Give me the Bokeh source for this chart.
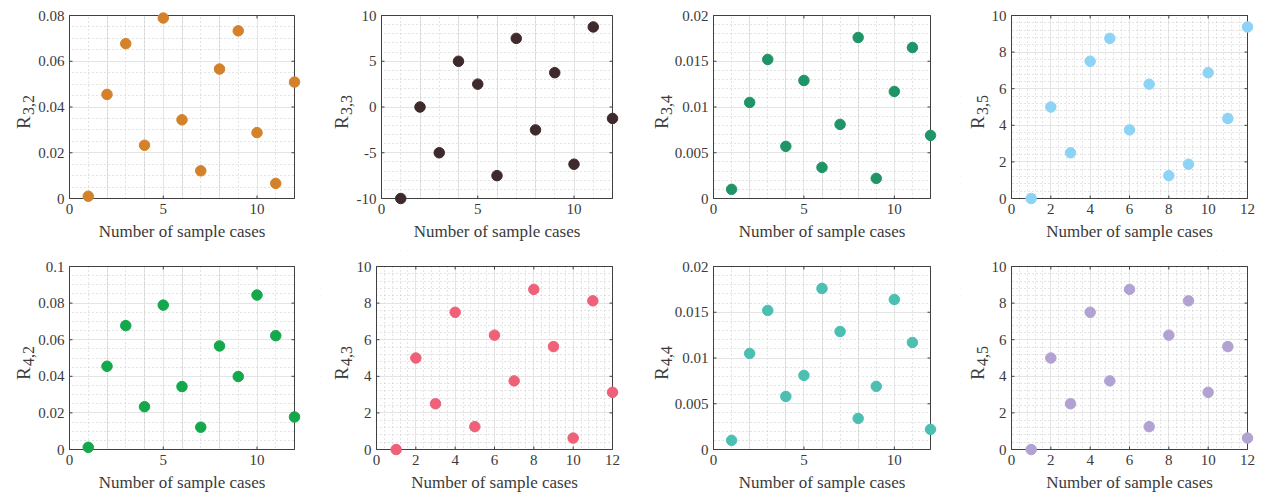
import numpy as np
from bokeh.plotting import figure
from bokeh.models import FixedTicker, Range1d, BoxAnnotation, Grid
from bokeh.core.properties import value
from bokeh.layouts import column, row
from bokeh.embed import file_html
from bokeh.resources import INLINE

# ---- data ----
cases = list(range(1, 13))
r32 = [0.001, 0.0455, 0.0677, 0.0233, 0.0789, 0.0344, 0.0121, 0.0566, 0.0733, 0.0288, 0.0066, 0.0509]
r33 = [-10, 0, -5, 5, 2.5, -7.5, 7.5, -2.5, 3.75, -6.25, 8.75, -1.25]
r34 = [0.001, 0.0105, 0.0152, 0.0057, 0.0129, 0.0034, 0.0081, 0.0176, 0.0022, 0.0117, 0.0165, 0.0069]
r35 = [0, 5, 2.5, 7.5, 8.75, 3.75, 6.25, 1.25, 1.875, 6.875, 4.375, 9.375]
r42 = [0.0012, 0.0455, 0.0677, 0.0234, 0.0789, 0.0344, 0.0122, 0.0566, 0.0399, 0.0844, 0.0622, 0.0178]
r43 = [0, 5, 2.5, 7.5, 1.25, 6.25, 3.75, 8.75, 5.625, 0.625, 8.125, 3.125]
r44 = [0.001, 0.0105, 0.0152, 0.0058, 0.0081, 0.0176, 0.0129, 0.0034, 0.0069, 0.0164, 0.0117, 0.0022]
r45 = [0, 5, 2.5, 7.5, 3.75, 8.75, 1.25, 6.25, 8.125, 3.125, 5.625, 0.625]

y_main = "R"
y_subs = ["3,2", "3,3", "3,4", "3,5", "4,2", "4,3", "4,4", "4,5"]
series = [r32, r33, r34, r35, r42, r43, r44, r45]
colors = ["#D4822A", "#3E2A2D", "#1F9567", "#8DD3F5", "#12A84B", "#EE6179", "#4CBFB3", "#B2A2D4"]
y_lims = [(0, 0.08), (-10, 10), (0, 0.02), (0, 10), (0, 0.1), (0, 10), (0, 0.02), (0, 10)]
y_steps = [0.02, 5, 0.005, 2, 0.02, 2, 0.005, 2]
y_minor = [4, 5, 5, 5, 4, 5, 5, 5]
x_lim = (0, 12)
x_steps = [5, 5, 5, 2, 5, 2, 5, 2]
x_minor = [5, 5, 5, 5, 5, 5, 5, 5]
x_label = "Number of sample cases"

# ---- layout (pixels) ----
col_w = [320, 330, 310, 308]
row_h = [250, 249]
box_left = [[69, 61, 63, 51], [69, 56, 63, 51]]
box_right = [[26, 38, 30, 21], [26, 38, 30, 21]]
box_top = [15, 16]
box_bottom = [52, 50]
ylab_x = [[-46, -40, -52, -34], [-46, -35, -52, -34]]   # baseline of the rotated "R", px from box left
TICK = 3

FONT = "Liberation Serif"
AX = "#404040"
TXT = "#3a3a3a"


def ticks(lo, hi, step, nsub):
    n = int(np.floor((hi - lo) / step + 1e-9))
    major = [float(v) for v in np.linspace(lo, lo + n * step, n + 1)]
    m = int(round((hi - lo) / (step / nsub)))
    allm = np.linspace(lo, hi, m + 1)
    minor = [float(v) for k, v in enumerate(allm) if k % nsub != 0]
    return major, minor


def fmt(v):
    s = f"{round(v, 6):g}"
    return "0" if s == "-0" else s


def make(i):
    r, c = divmod(i, 4)
    ylo, yhi = y_lims[i]
    xlo, xhi = x_lim
    W, H = col_w[c], row_h[r]
    bl, br, bt, bb = box_left[r][c], box_right[r][c], box_top[r], box_bottom[r]
    bw = W - bl - br
    bh = H - bt - bb
    ux = (xhi - xlo) / bw
    uy = (yhi - ylo) / bh
    xr = Range1d(xlo - bl * ux, xhi + br * ux)
    yr = Range1d(ylo - bb * uy, yhi + bt * uy)
    p = figure(width=W, height=H, output_backend="svg", toolbar_location=None,
               x_range=xr, y_range=yr, x_axis_location=None, y_axis_location=None,
               min_border=0, background_fill_color="white", border_fill_color="white")
    p.outline_line_color = None

    xmaj, xmin = ticks(xlo, xhi, x_steps[i], x_minor[i])
    ymaj, ymin = ticks(ylo, yhi, y_steps[i], y_minor[i])
    xt = FixedTicker(ticks=xmaj, minor_ticks=xmin)
    yt = FixedTicker(ticks=ymaj, minor_ticks=ymin)

    for dim, t in ((0, xt), (1, yt)):
        g = Grid(dimension=dim, ticker=t, grid_line_color="#e4e4e4", grid_line_width=1,
                 minor_grid_line_color="#c8c8c8", minor_grid_line_dash="1 3",
                 minor_grid_line_width=1)
        p.add_layout(g)

    # white covers outside the data box, so that grid lines stop at the box
    for kw in (dict(left=xr.start, right=xlo, bottom=yr.start, top=yr.end),
               dict(left=xhi, right=xr.end, bottom=yr.start, top=yr.end),
               dict(left=xr.start, right=xr.end, bottom=yr.start, top=ylo),
               dict(left=xr.start, right=xr.end, bottom=yhi, top=yr.end)):
        p.add_layout(BoxAnnotation(fill_color="white", fill_alpha=1.0, line_color=None,
                                   level="underlay", **kw))
    p.add_layout(BoxAnnotation(left=xlo, right=xhi, bottom=ylo, top=yhi, fill_color=None,
                               fill_alpha=0, line_color=AX, line_alpha=1.0, line_width=1,
                               level="underlay"))

    # inward tick marks on all four sides
    tx = TICK * ux
    ty = TICK * uy
    sx0 = xmaj + xmaj + [xlo] * len(ymaj) + [xhi] * len(ymaj)
    sx1 = xmaj + xmaj + [xlo + tx] * len(ymaj) + [xhi - tx] * len(ymaj)
    sy0 = [ylo] * len(xmaj) + [yhi] * len(xmaj) + ymaj + ymaj
    sy1 = [ylo + ty] * len(xmaj) + [yhi - ty] * len(xmaj) + ymaj + ymaj
    p.segment(sx0, sy0, sx1, sy1, line_color=AX, line_width=1)

    # tick labels
    p.text(x=xmaj, y=[ylo] * len(xmaj), text=[fmt(v) for v in xmaj], y_offset=5,
           text_align="center", text_baseline="top", text_font=value(FONT),
           text_font_size=value("15px"), text_color=TXT)
    p.text(x=[xlo] * len(ymaj), y=ymaj, text=[fmt(v) for v in ymaj], x_offset=-5,
           text_align="right", text_baseline="middle", text_font=value(FONT),
           text_font_size=value("15px"), text_color=TXT)

    # axis labels
    p.text(x=[(xlo + xhi) / 2], y=[ylo], text=[x_label], y_offset=33,
           text_align="center", text_baseline="alphabetic", text_font=value(FONT),
           text_font_size=value("17px"), text_color=TXT)
    ymid = (ylo + yhi) / 2
    lx = ylab_x[r][c]
    p.text(x=[xlo], y=[ymid], text=[y_main], x_offset=lx, y_offset=22, angle=np.pi / 2,
           text_align="left", text_baseline="alphabetic", text_font=value(FONT),
           text_font_size=value("19px"), text_color=TXT)
    p.text(x=[xlo], y=[ymid], text=[y_subs[i]], x_offset=lx + 5, y_offset=22 - 14,
           angle=np.pi / 2, text_align="left", text_baseline="alphabetic",
           text_font=value(FONT), text_font_size=value("16px"), text_color=TXT)

    p.scatter(cases, series[i], size=10.5, fill_color=colors[i], line_color=colors[i])
    return p


figs = [make(i) for i in range(8)]
layout = column(row(*figs[:4], spacing=0), row(*figs[4:], spacing=0), spacing=0)
open("out.html", "w").write(file_html(layout, INLINE))
